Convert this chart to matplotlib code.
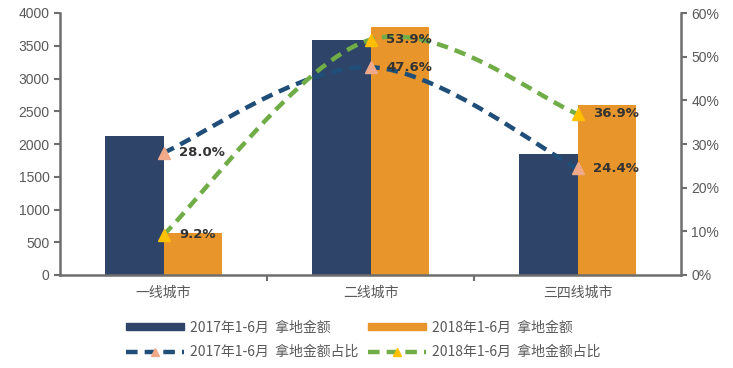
import matplotlib
matplotlib.use("Agg")
import matplotlib.pyplot as plt
from matplotlib.path import Path
from matplotlib.patches import PathPatch
from matplotlib.lines import Line2D
from matplotlib.patches import Patch
import numpy as np

plt.rcParams['font.family'] = ['Noto Sans CJK SC', 'DejaVu Sans']

categories = ['一线城市', '二线城市', '三四线城市']
amount_2017 = [2120, 3590, 1850]
amount_2018 = [640, 3780, 2600]
share_2017 = [28.0, 47.6, 24.4]
share_2018 = [9.2, 53.9, 36.9]
series_names = ['2017年1-6月  拿地金额', '2018年1-6月  拿地金额',
                '2017年1-6月  拿地金额占比', '2018年1-6月  拿地金额占比']

c_dark = '#2E4468'
c_orange = '#E8952B'
c_line17 = '#1F4E79'
c_line18 = '#70AD47'
c_mk17 = '#F0AA8A'
c_mk18 = '#FFC000'
c_axis = '#6E6E6E'
c_text = '#595959'
num_font = ['Liberation Sans', 'Noto Sans CJK SC']


def smooth_path(xs, ys):
    # Catmull-Rom spline through the points, drawn as cubic Bezier segments
    pts = np.column_stack([xs, ys]).astype(float)
    ext = np.vstack([pts[0], pts, pts[-1]])
    verts = [pts[0]]
    codes = [Path.MOVETO]
    for i in range(1, len(ext) - 2):
        p0, p1, p2, p3 = ext[i - 1], ext[i], ext[i + 1], ext[i + 2]
        verts += [p1 + (p2 - p0) / 6, p2 - (p3 - p1) / 6, p2]
        codes += [Path.CURVE4] * 3
    return Path(verts, codes)


fig = plt.figure(figsize=(7.33, 3.68), dpi=100)
ax = fig.add_axes([60 / 733, 1 - 275 / 368, (681 - 60) / 733, (275 - 13) / 368])
x = np.arange(len(categories))
w = 0.285
ax.bar(x - w / 2, amount_2017, w, color=c_dark, zorder=2)
ax.bar(x + w / 2, amount_2018, w, color=c_orange, zorder=2)
ax.set_xlim(-0.5, 2.5)
ax.set_ylim(0, 4000)
ax.set_yticks(range(0, 4001, 500))
ax.set_xticks(x)
ax.set_xticklabels(categories, fontsize=10, color=c_text)
ax.set_xticks([0.5, 1.5], minor=True)
ax.tick_params(axis='x', which='major', length=0, pad=8)
ax.tick_params(axis='x', which='minor', length=4, color=c_axis, width=1.5)
ax.tick_params(axis='y', length=4, color=c_axis, width=1.5, labelsize=10,
               labelcolor=c_text)
for lab in ax.get_yticklabels():
    lab.set_family(num_font)
for s in ['top', 'right']:
    ax.spines[s].set_visible(False)
for s in ['left', 'bottom']:
    ax.spines[s].set_color(c_axis)
    ax.spines[s].set_linewidth(1.8)

ax2 = ax.twinx()
ax2.set_ylim(0, 60)
ax2.set_yticks(range(0, 61, 10))
ax2.set_yticklabels([f'{v}%' for v in range(0, 61, 10)], family=num_font)
ax2.tick_params(axis='y', length=4, color=c_axis, width=1.5, labelsize=10,
                labelcolor=c_text)
for s in ['top', 'left', 'bottom']:
    ax2.spines[s].set_visible(False)
ax2.spines['right'].set_color(c_axis)
ax2.spines['right'].set_linewidth(1.8)

dash = (0, (2.6, 1.6))
for vals, lc, mc in [(share_2017, c_line17, c_mk17), (share_2018, c_line18, c_mk18)]:
    ax2.add_patch(PathPatch(smooth_path(x, vals), fill=False, edgecolor=lc,
                            lw=3.2, ls=dash, zorder=3))
    ax2.plot(x, vals, ls='none', marker='^', ms=9, color=mc, zorder=4)
    for xi, v in zip(x, vals):
        ax2.text(xi + 0.075, v, f'{v:.1f}%', fontsize=9.5, fontweight='bold',
                 family='DejaVu Sans', color='#333333', va='center', ha='left',
                 zorder=5)

handles = [
    Patch(color=c_dark),
    Patch(color=c_orange),
    Line2D([], [], color=c_line17, lw=3.2, ls=dash, marker='^',
           ms=6, mfc=c_mk17, mec=c_mk17),
    Line2D([], [], color=c_line18, lw=3.2, ls=dash, marker='^',
           ms=6, mfc=c_mk18, mec=c_mk18),
]
order = [0, 2, 1, 3]
leg = fig.legend([handles[i] for i in order], [series_names[i] for i in order],
                 loc='center', bbox_to_anchor=(0.495, 0.077), ncol=2, frameon=False,
                 fontsize=10, handlelength=4.2, handleheight=0.4,
                 columnspacing=0.7, labelspacing=0.75, handletextpad=0.4)
for t in leg.get_texts():
    t.set_color(c_text)

fig.savefig('out.png', dpi=100)
